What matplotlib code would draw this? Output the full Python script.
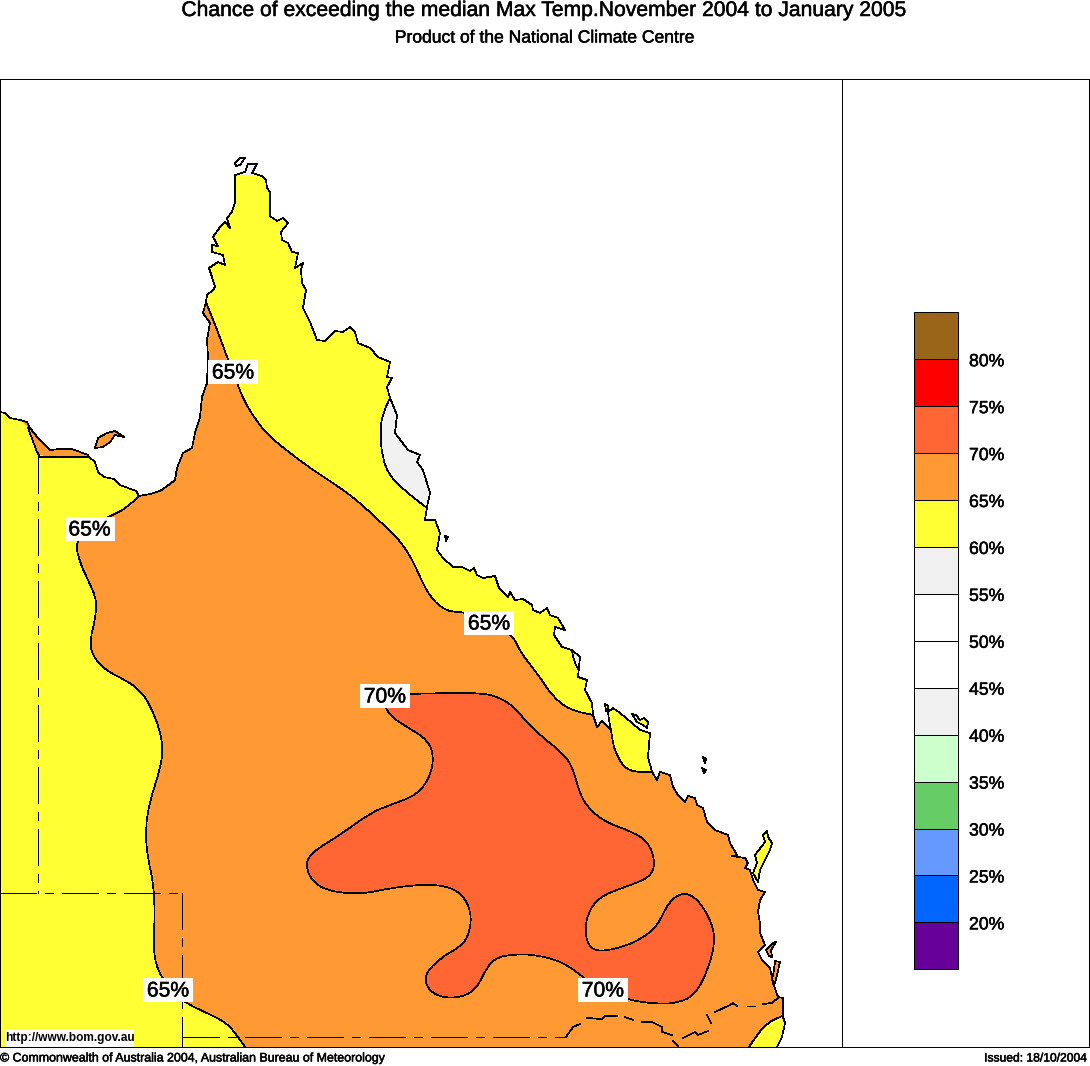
import matplotlib
matplotlib.use("Agg")
import matplotlib.pyplot as plt
from matplotlib.path import Path
from matplotlib.patches import PathPatch, Polygon, Rectangle
import matplotlib.patheffects as pe
import numpy as np

plt.rcParams['font.family'] = ['Liberation Sans', 'DejaVu Sans']
plt.rcParams['lines.scale_dashes'] = False

W, H = 1090, 1066
TITLE = "Chance of exceeding the median Max Temp.November 2004 to January 2005"
SUBTITLE = "Product of the National Climate Centre"
COPYRIGHT = "\u00a9 Commonwealth of Australia 2004, Australian Bureau of Meteorology"
ISSUED = "Issued: 18/10/2004"
URL = "http://www.bom.gov.au"

# legend classes, top to bottom
legend_colors = ['#996619', '#FF0000', '#FF6633', '#FF9933', '#FFFF33', '#F0F0F0', '#FFFFFF',
                 '#FFFFFF', '#F0F0F0', '#CCFFCC', '#66CC66', '#6699FF', '#0066FF', '#660099']
legend_labels = ['80%', '75%', '70%', '65%', '60%', '55%', '50%', '45%', '40%', '35%', '30%', '25%', '20%']

# map coordinates (image pixels)
coast = [(0,412),(5,413),(10,418),(20,420),(27,422),(30,428),(38,438),(50,450),(60,449),(72,449),(88,455),
 (89,457),(95,462),(98,472),(104,477),(114,479),(120,485),(128,488),(136,491),(139,496),(150,494),(160,491),
 (170,484),(175,480),(177,468),(183,453),(192,448),(195,433),(200,417),(202,397),(207,383),(208,357),(207,340),
 (210,323),(203,313),(206,302),(207,295),(213,290),(215,287),(212,277),(209,268),(218,262),(225,265),(223,255),
 (212,252),(212,245),(218,246),(213,237),(220,227),(225,222),(230,228),(227,218),(232,212),(235,202),(235,175),
 (245,172),(248,164),(257,164),(252,173),(262,176),(266,180),(267,188),(270,192),(270,216),(277,221),(283,218),
 (288,223),(281,232),(282,240),(288,243),(292,252),(298,253),(295,268),(303,263),(301,270),(302,283),(306,290),
 (303,308),(310,322),(317,340),(325,341),(335,331),(343,332),(350,327),(355,332),(358,343),(370,348),(378,357),
 (390,362),(387,377),(392,378),(387,387),(390,398),(397,415),(395,433),(408,450),(420,455),(417,462),(423,470),
 (427,483),(430,493),(427,507),(425,520),(435,520),(440,533),(437,550),(443,558),(453,567),(462,567),(470,571),
 (474,568),(477,575),(483,578),(495,576),(499,588),(508,597),(510,592),(515,600),(523,599),(532,605),(533,610),
 (540,613),(547,608),(550,615),(558,618),(565,630),(555,627),(554,635),(562,647),(572,650),(580,657),(578,677),
 (587,680),(585,690),(592,703),(593,715),(597,727),(602,721),(608,727),(611,730),(609,720),(608,712),(613,708),
 (620,713),(632,723),(640,730),(650,733),(648,757),(652,772),(657,780),(660,772),(670,775),(673,787),(678,795),
 (685,802),(688,796),(695,798),(697,805),(703,808),(707,822),(715,830),(728,835),(730,843),(737,855),(732,856),
 (745,858),(748,863),(745,868),(750,870),(753,880),(758,890),(765,892),(760,900),(758,912),(760,923),(760,933),
 (765,945),(758,952),(762,960),(770,968),(773,983),(778,997),(783,998),(783,1017),(785,1023),(782,1037),(777,1047),
 (0,1047)]

islands_orange = [[(95,448),(98,438),(107,433),(115,431),(124,437),(115,435),(110,442),(103,447)],
                  [(773,943),(776,942),(771,950),(772,957),(769,956),(766,950)],
                  [(775,961),(780,962),(777,975),(775,983),(772,980),(774,970)]]
islands_yellow = [[(767,831),(763,835),(765,842),(755,855),(757,863),(753,873),(758,882),(760,870),(770,850),(772,843),(768,837)],
                  [(605,704),(608,706),(608,712),(606,711)],
                  [(632,714),(636,715),(640,720),(644,718),(648,722),(647,728),(643,725),(637,722)]]
islands_white = [[(235,163),(240,158),(245,158),(240,165),(236,166)],
                 [(445,536),(448,537),(446,541)], [(703,757),(706,759),(705,763)],
                 [(702,768),(706,770),(704,773)]]

yellow_ne = [(206,302),(220,337),(228,360),(237,383),(245,403),(258,423),(270,437),(290,453),(310,468),(333,483),
             (357,500),(378,520),(395,535),(410,555),(420,577),(430,597),(442,608),(452,612),(465,612),(490,622),
             (513,635),(520,652),(537,673),(553,697),(570,710),(593,715)]
yellow_pen = [(611,730),(613,745),(617,755),(623,766),(633,772),(652,772)]
yellow_west = [(139,496),(128,507),(113,515),(90,525),(75,542),(80,563),(88,580),(97,600),(95,620),(90,640),(92,655),
               (105,670),(125,680),(140,690),(150,705),(160,730),(163,750),(160,770),(150,800),(145,830),(148,860),
               (153,880),(155,913),(153,952),(160,977),(183,1002),(207,1013),(227,1023),(238,1037),(245,1047)]
gulf_line = [(28,428),(37,452),(40,457),(88,457)]
yellow_se = [(749,1047),(757,1035),(767,1023),(782,1016)]
grey_ne = [(390,398),(383,412),(380,430),(382,457),(390,477),(410,495),(427,508)]
grey_small = [(572,650),(573,660),(580,672)]
grey_tip = [(242,175),(262,175),(262,160),(242,160)]

red_zone = [(385,694),(410,694),(447,693),(482,693),(498,697),(512,705),(523,718),(543,738),(563,753),(573,768),(580,795),
            (590,810),(607,823),(633,832),(648,842),(655,860),(652,875),(637,883),(610,892),(597,900),(588,913),
            (585,930),(588,945),(598,952),(623,947),(643,938),(658,925),(668,903),(682,892),(697,898),(712,922),
            (715,943),(708,970),(695,995),(678,1003),(657,1004),(628,1000),(600,990),(583,977),(563,962),(537,955),
            (517,954),(497,957),(487,967),(477,988),(463,997),(443,998),(428,990),(424,975),(440,958),(460,947),
            (468,937),(472,917),(465,897),(450,887),(427,884),(390,888),(363,894),(332,892),(313,883),(305,865),
            (312,852),(340,835),(370,813),(390,805),(417,795),(430,777),(434,757),(428,740),(407,727),(393,718),(385,708)]

dash_lines = [[(38,457),(38,893)], [(0,893),(183,893)], [(182,893),(182,1047)], [(183,1037),(566,1037)]]
border_pieces = [[(566,1037),(573,1027),(580,1024)], [(587,1018),(602,1019),(605,1016),(617,1016)],
                 [(625,1017),(633,1020)], [(642,1022),(652,1022),(662,1027),(662,1032),(672,1035)],
                 [(673,1041),(678,1046)], [(683,1038),(695,1032),(698,1035),(708,1031)], [(707,1015),(711,1023)],
                 [(715,1012),(730,1005),(733,1003),(737,1006)], [(747,1006),(755,1006)], [(763,1004),(772,1003),(779,997)]]

contour_labels = [('65%',233,372),('65%',89.5,529),('65%',489,623),('70%',385,696),('70%',603,990),('65%',168,990)]

def smooth(points):
    """Open quadratic spline path through the midpoints of the outline."""
    p = np.asarray(points, float)
    verts, codes = [p[0]], [Path.MOVETO]
    for i in range(1, len(p) - 1):
        verts += [p[i], (p[i] + p[i + 1]) / 2]
        codes += [Path.CURVE3, Path.CURVE3]
    verts.append(p[-1]); codes.append(Path.LINETO)
    return Path(verts, codes)

def flat(points):
    return smooth(points).to_polygons(closed_only=False)[0]

fig = plt.figure(figsize=(W / 100, H / 100), dpi=100, facecolor='white')
ax = fig.add_axes([0, 0, 1, 1])
ax.set_xlim(0, W); ax.set_ylim(H, 0); ax.axis('off')

LW = 0.5
ORANGE, YELLOW, GREY, RED = '#FF9933', '#FFFF33', '#F0F0F0', '#FF6633'
land = Polygon(coast, closed=True, fc=ORANGE, ec='none', zorder=1, antialiased=False)
ax.add_patch(land)
heavy = [pe.withStroke(linewidth=0.35, foreground='black')]

def zone(poly, color, z=2):
    patch = Polygon(poly, closed=True, fc=color, ec='none', zorder=z, antialiased=False)
    ax.add_patch(patch)
    patch.set_clip_path(land)

def cline(points, clip=True):
    patch = PathPatch(smooth(points), fc='none', ec='black', lw=LW, zorder=4, antialiased=False)
    ax.add_patch(patch)
    if clip:
        patch.set_clip_path(land)

# yellow and grey zones, each a contour closed through the sea
zone(np.vstack([flat(yellow_ne), [(640,690),(900,400),(900,100),(190,100),(190,295)]]), YELLOW)
zone(np.vstack([flat(yellow_pen), [(680,770),(690,700),(620,690),(600,712)]]), YELLOW)
zone(np.vstack([[(-5,400)], flat(gulf_line), [(110,462),(145,485)], flat(yellow_west), [(-5,1050)]]), YELLOW)
zone(np.vstack([flat(yellow_se), [(800,1016),(800,1050),(745,1050)]]), YELLOW)
zone(np.vstack([flat(grey_ne), [(445,500),(420,385)]]), GREY, 3)
zone(np.vstack([flat(grey_small), [(590,665),(582,645)]]), GREY, 3)
zone(grey_tip, GREY, 3)
zone(flat(red_zone + red_zone[:2]), RED, 3)

for seg in (yellow_ne, yellow_pen, yellow_west, yellow_se, grey_ne, grey_small):
    cline(seg)
ax.plot(*zip(*gulf_line), color='black', lw=LW, zorder=4, antialiased=False)
cline(red_zone + red_zone[:2])

# state borders
for seg in dash_lines:
    ax.plot(*zip(*seg), color='black', lw=LW, ls=(0, (26, 6, 6, 6)), zorder=5, antialiased=False,
            dash_capstyle='butt')
for seg in border_pieces:
    ax.plot(*zip(*seg), color='black', lw=LW, zorder=5, antialiased=False)

# coast and islands
ax.add_patch(Polygon(coast[:-1], closed=False, fc='none', ec='black', lw=LW, zorder=6, antialiased=False))
for group, col in ((islands_orange, ORANGE), (islands_yellow, YELLOW), (islands_white, 'white')):
    for isl in group:
        ax.add_patch(Polygon(isl, closed=True, fc=col, ec='black', lw=LW, zorder=6, antialiased=False))

# contour labels
for txt, x, y in contour_labels:
    ax.add_patch(Rectangle((x - 25, y - 12), 50, 24, fc='white', ec='none', zorder=8))
    ax.text(x, y + 1, txt, fontsize=15.2, ha='center', va='center', zorder=9, color='black', path_effects=heavy)

# url box
ax.add_patch(Rectangle((5, 1029), 129, 17.5, fc='white', ec='none', zorder=8))
ax.text(69.5, 1038, URL, fontsize=8.6, ha='center', va='center', zorder=9, fontweight='bold')

# frame
for seg in ([(0,79),(1089,79)], [(0,1047),(1089,1047)], [(0,79),(0,1047)],
            [(1089,79),(1089,1047)], [(842,79),(842,1047)]):
    ax.plot(*zip(*seg), color='black', lw=LW, zorder=10, antialiased=False, clip_on=False)

# legend
top, step = 312.3, 657 / 14
for i, c in enumerate(legend_colors):
    ax.add_patch(Rectangle((914, top + i * step), 44, step, fc=c, ec='black', lw=LW, zorder=7, antialiased=False))
for i, lab in enumerate(legend_labels):
    ax.text(969, top + (i + 1) * step + 2.5, lab, fontsize=12.7, ha='left', va='center', zorder=9, path_effects=heavy)

# titles
ax.text(544.5, 10.5, TITLE, fontsize=15.2, ha='center', va='center', path_effects=heavy)
ax.text(544.5, 38, SUBTITLE, fontsize=12.6, ha='center', va='center', path_effects=heavy)
ax.text(0, 1058.5, COPYRIGHT, fontsize=8.93, ha='left', va='center', path_effects=heavy)
ax.text(1088, 1058.5, ISSUED, fontsize=8.7, ha='right', va='center', path_effects=heavy)

fig.savefig('out.png', dpi=100, facecolor='white')
